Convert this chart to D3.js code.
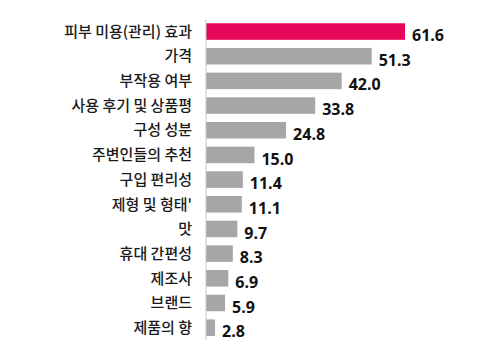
<!DOCTYPE html>
<html>
<head>
<meta charset="utf-8">
<script src="https://cdn.jsdelivr.net/npm/d3@7"></script>
<style>
body{margin:0;background:#fff;}
</style>
</head>
<body>
<svg width="485" height="354"></svg>
<script>
var categories = ['피부 미용(관리) 효과','가격','부작용 여부','사용 후기 및 상품평','구성 성분','주변인들의 추천','구입 편리성','제형 및 형태\'','맛','휴대 간편성','제조사','브랜드','제품의 향'];
var values = [61.6,51.3,42.0,33.8,24.8,15.0,11.4,11.1,9.7,8.3,6.9,5.9,2.8];
var valueLabels = ['61.6','51.3','42.0','33.8','24.8','15.0','11.4','11.1','9.7','8.3','6.9','5.9','2.8'];

var data = categories.map((c,i) => ({cat:c, val:values[i], lab:valueLabels[i]}));
var svg = d3.select('svg');

var xscale = d3.scaleLinear().domain([0,61.6]).range([206,405]);
var yscale = d3.scaleBand().domain(categories).range([19.2,340]).paddingInner(0.33).paddingOuter(0.165);

svg.append('g').selectAll('rect').data(data)
	.enter()
	.append('rect')
	.attr('x',xscale(0))
	.attr('y',d => yscale(d.cat))
	.attr('width',d => xscale(d.val)-xscale(0))
	.attr('height',yscale.bandwidth())
	.attr('fill',(d,i) => i==0 ? '#e8065a' : '#a6a6a6');

// axis line
svg.append('line')
	.attr('x1',xscale(0)).attr('x2',xscale(0))
	.attr('y1',19).attr('y2',340)
	.attr('stroke','#c8c8c8').attr('stroke-width',1);

svg.append('g').selectAll('text').data(data)
	.enter()
	.append('text')
	.attr('x',192)
	.attr('y',d => yscale(d.cat)+yscale.bandwidth()/2)
	.attr('dy','0.35em')
	.attr('text-anchor','end')
	.style('font-family','"Noto Sans CJK KR"')
	.style('font-size','15px')
	.style('font-weight','500')
	.attr('fill','#1a1a1a')
	.text(d => d.cat);

svg.append('g').selectAll('text').data(data)
	.enter()
	.append('text')
	.attr('x',d => xscale(d.val)+7)
	.attr('y',d => yscale(d.cat)+yscale.bandwidth()/2+4)
	.attr('dy','0.35em')
	.style('font-family','"Open Sans"')
	.style('font-size','16px')
	.style('font-weight','bold')
	.attr('fill','#111')
	.text(d => d.lab);
</script>
</body>
</html>
